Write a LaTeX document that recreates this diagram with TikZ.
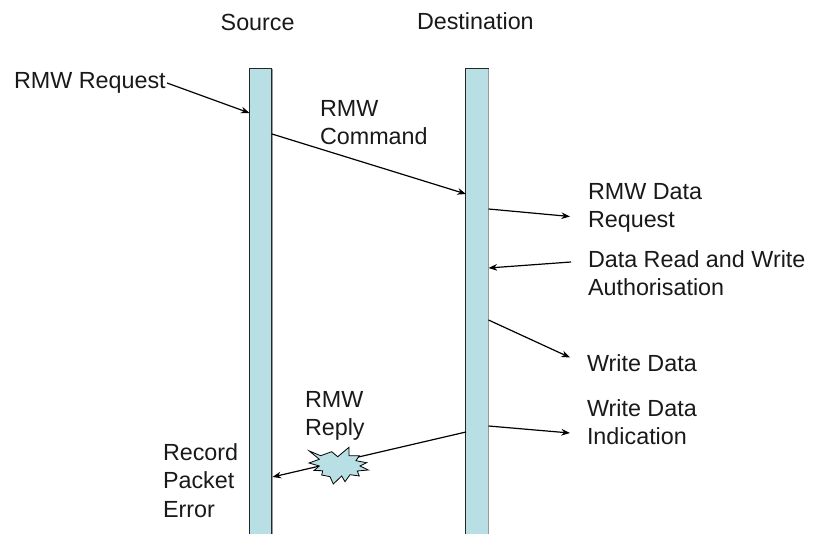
\documentclass[tikz,border=0pt]{standalone}
\usepackage{fontspec}
\setmainfont{Liberation Sans}
\usetikzlibrary{arrows.meta}
\definecolor{barfill}{RGB}{184,224,228}
\tikzset{
  x=0.75pt,y=-0.75pt,
  lifeline/.style={draw=black!85,line width=0.7pt,fill=barfill,minimum width=16.6pt,minimum height=349.5pt,inner sep=0pt,outer sep=0pt},
  lbl/.style={font=\fontsize{17.5pt}{21.4pt}\selectfont,text=black!90,inner sep=0pt,outer sep=0pt,align=left,anchor=north west},
  msg/.style={draw=black,line width=0.9pt,-{Stealth[length=6.5pt,width=5pt]}},
  burst/.style={draw=black,line width=0.6pt,fill=barfill}
}
\begin{document}
\begin{tikzpicture}
\useasboundingbox (0,0) rectangle (815,534);
\node[lifeline,anchor=north] (src) at (260.75,68.3) {};
\node[lifeline,anchor=north] (dst) at (477,68.3) {};
\fill[gray!80] (271.9,69) rectangle (273,534);
\fill[gray!80] (488.1,69) rectangle (489.2,534);
\node[lbl] (tsrc) at (220.7,14.2) {Source};
\node[lbl] (tdst) at (417,12.2) {Destination};
\node[lbl] (t1) at (14,72.2) {RMW Request};
\node[lbl] (t2) at (320,100.2) {RMW\\Command};
\node[lbl] (t3) at (588,183.2) {RMW Data\\Request};
\node[lbl] (t4) at (588,250.2) {Data Read and Write\\Authorisation};
\node[lbl] (t5) at (587,354.2) {Write Data};
\node[lbl] (t6) at (587,399.2) {Write Data\\Indication};
\node[lbl] (t7) at (305,391.2) {RMW\\Reply};
\node[lbl] (t8) at (163,443.2) {Record\\Packet\\Error};
\coordinate (a1) at (167,83);
\coordinate (a2) at (249.5,113);
\coordinate (b1) at (272,134);
\coordinate (b2) at (466,194);
\coordinate (c1) at (488.5,209);
\coordinate (c2) at (570,216.5);
\coordinate (d1) at (571,262);
\coordinate (d2) at (488.5,268);
\coordinate (e1) at (488.5,320);
\coordinate (e2) at (570,357.5);
\coordinate (f1) at (488.5,426);
\coordinate (f2) at (570,433);
\coordinate (g1) at (466,432);
\coordinate (g2) at (272.5,477);
\draw[msg] (a1) -- (a2);
\draw[msg] (b1) -- (b2);
\draw[msg] (c1) -- (c2);
\draw[msg] (d1) -- (d2);
\draw[msg] (e1) -- (e2);
\draw[msg] (f1) -- (f2);
\draw[msg] (g1) -- (g2);
\draw[burst] (309.3,451) -- (320.7,455.7) -- (331.7,451.7) -- (337.7,456.7) -- (349,447.3) -- (349,455.7) -- (359.3,455.7) -- (356,460.7) -- (366.7,462.7) -- (360,466) -- (368.3,470) -- (357.3,471) -- (359.3,476) -- (350,474.7) -- (345,481.7) -- (341.7,476) -- (333.3,484) -- (330,476.7) -- (321.7,475) -- (322.7,470.7) -- (314,470.5) -- (319.3,466) -- (309,463) -- (319.3,459.3) -- cycle;
\end{tikzpicture}
\end{document}
